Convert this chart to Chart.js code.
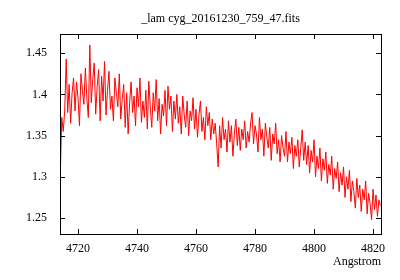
<!DOCTYPE html>
<html>
<head>
<meta charset="utf-8">
<script src="https://cdn.jsdelivr.net/npm/chart.js@4"></script>
<style>
  html, body { margin: 0; padding: 0; background: #fff; }
  #wrap { width: 400px; height: 280px; }
</style>
</head>
<body>
<div id="wrap"><canvas id="specChart" width="400" height="280"></canvas></div>
<script>
const titleText = "_lam cyg_20161230_759_47.fits";
const xLabel = "Angstrom";

// wavelength grid (Angstrom): start + step
const lamStart = 4714.0;
const lamStep = 0.5;

// flux values, one per 0.5 A
const flux = [
  1.302, 1.372, 1.355, 1.381, 1.443, 1.378, 1.412, 1.365, 1.402, 1.420,
  1.380, 1.415, 1.396, 1.362, 1.425, 1.405, 1.388, 1.432, 1.395, 1.372,
  1.460, 1.390, 1.418, 1.438, 1.376, 1.410, 1.430, 1.368, 1.422, 1.392,
  1.440, 1.375, 1.405, 1.428, 1.382, 1.398, 1.368, 1.420, 1.402, 1.385,
  1.425, 1.370, 1.395, 1.412, 1.360, 1.402, 1.352, 1.390, 1.415, 1.378,
  1.398, 1.362, 1.408, 1.385, 1.420, 1.366, 1.392, 1.372, 1.405, 1.358,
  1.416, 1.385, 1.360, 1.402, 1.380, 1.418, 1.368, 1.395, 1.352, 1.388,
  1.374, 1.405, 1.362, 1.410, 1.382, 1.398, 1.355, 1.392, 1.370, 1.400,
  1.365, 1.385, 1.352, 1.398, 1.375, 1.360, 1.392, 1.350, 1.380, 1.368,
  1.396, 1.358, 1.382, 1.348, 1.375, 1.392, 1.355, 1.372, 1.345, 1.385,
  1.362, 1.378, 1.345, 1.370, 1.352, 1.365, 1.340, 1.312, 1.362, 1.335,
  1.372, 1.345, 1.358, 1.330, 1.368, 1.342, 1.362, 1.325, 1.352, 1.370,
  1.338, 1.360, 1.332, 1.358, 1.345, 1.368, 1.335, 1.355, 1.342, 1.365,
  1.378, 1.340, 1.362, 1.352, 1.330, 1.372, 1.345, 1.358, 1.325, 1.365,
  1.348, 1.335, 1.360, 1.320, 1.352, 1.340, 1.365, 1.328, 1.345, 1.318,
  1.350, 1.335, 1.325, 1.355, 1.318, 1.342, 1.328, 1.348, 1.310, 1.338,
  1.325, 1.345, 1.312, 1.335, 1.357, 1.320, 1.342, 1.315, 1.338, 1.305,
  1.332, 1.318, 1.345, 1.300, 1.325, 1.310, 1.335, 1.295, 1.322, 1.308,
  1.330, 1.292, 1.315, 1.302, 1.325, 1.285, 1.310, 1.298, 1.318, 1.282,
  1.305, 1.290, 1.312, 1.275, 1.300, 1.285, 1.308, 1.270, 1.295, 1.282,
  1.262, 1.298, 1.275, 1.290, 1.258, 1.285, 1.272, 1.295, 1.255, 1.280,
  1.268, 1.248, 1.285, 1.260, 1.278, 1.252, 1.272, 1.265
];

const xMin = 4713.9, xMax = 4822.7, xStep = 20;
const yMin = 1.2306, yMax = 1.4733, yStep = 0.05;

const points = flux.map((v, i) => ({ x: lamStart + i * lamStep, y: v }));

const fontFam = "'Liberation Serif', 'DejaVu Serif', serif";

// gnuplot-like frame with inward ticks on all four sides
const frameTicks = {
  id: "frameTicks",
  afterDatasetsDraw(chart) {
    const { ctx, chartArea: a, scales } = chart;
    const len = 5;
    ctx.save();
    ctx.strokeStyle = "#000";
    ctx.lineWidth = 1;
    ctx.beginPath();
    scales.x.ticks.forEach(t => {
      const px = Math.round(scales.x.getPixelForValue(t.value)) + 0.5;
      ctx.moveTo(px, a.bottom); ctx.lineTo(px, a.bottom - len);
      ctx.moveTo(px, a.top); ctx.lineTo(px, a.top + len);
    });
    scales.y.ticks.forEach(t => {
      const py = Math.round(scales.y.getPixelForValue(t.value)) + 0.5;
      ctx.moveTo(a.left, py); ctx.lineTo(a.left + len, py);
      ctx.moveTo(a.right, py); ctx.lineTo(a.right - len, py);
    });
    ctx.stroke();
    ctx.strokeRect(Math.round(a.left) + 0.5, Math.round(a.top) + 0.5,
      Math.round(a.right - a.left), Math.round(a.bottom - a.top));
    ctx.restore();
  }
};

new Chart("specChart", {
  type: "line",
  data: {
    datasets: [{
      data: points,
      borderColor: "#ff0000",
      borderWidth: 1,
      pointRadius: 0,
      tension: 0,
      fill: false
    }]
  },
  options: {
    responsive: false,
    animation: false,
    layout: { padding: { left: 0, right: 19, top: 0, bottom: 0 } },
    scales: {
      x: {
        type: "linear",
        min: xMin,
        max: xMax,
        afterFit: s => { s.height = 46; },
        grid: { display: false, drawTicks: false },
        border: { display: false },
        ticks: {
          stepSize: xStep,
          includeBounds: false,
          maxRotation: 0,
          padding: 8,
          color: "#000",
          font: { family: fontFam, size: 12 },
          callback: v => String(v)
        },
        title: {
          display: true,
          text: xLabel,
          align: "end",
          color: "#000",
          font: { family: fontFam, size: 12 },
          padding: { top: 0, bottom: 11 }
        }
      },
      y: {
        min: yMin,
        max: yMax,
        afterFit: s => { s.width = 60; },
        grid: { display: false, drawTicks: false },
        border: { display: false },
        ticks: {
          stepSize: yStep,
          includeBounds: false,
          padding: 13,
          color: "#000",
          font: { family: fontFam, size: 12 },
          callback: v => String(+v.toFixed(2))
        }
      }
    },
    plugins: {
      legend: { display: false },
      tooltip: { enabled: false },
      title: {
        display: true,
        text: titleText,
        color: "#000",
        fullSize: false,
        font: { family: fontFam, size: 12, weight: "normal" },
        padding: { top: 12, bottom: 7.6 }
      }
    }
  },
  plugins: [frameTicks]
});
</script>
</body>
</html>
